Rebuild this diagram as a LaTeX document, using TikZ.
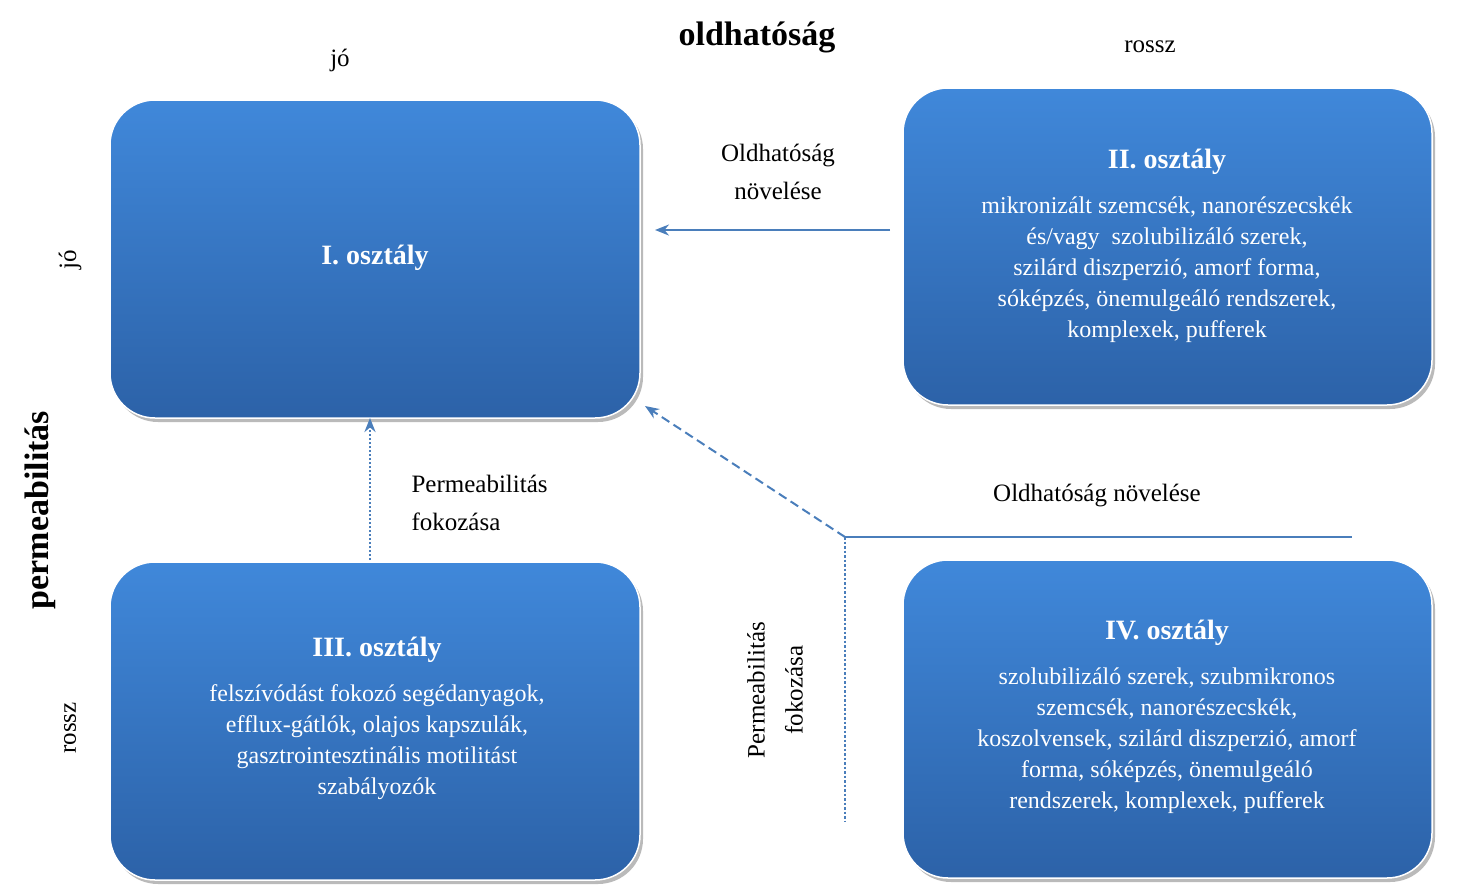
\documentclass[tikz,border=0pt]{standalone}
\usepackage{fontspec}
\setmainfont{Liberation Serif}
\usetikzlibrary{arrows.meta,shadows}
\definecolor{btop}{HTML}{4088DA}
\definecolor{bbot}{HTML}{2C62A8}
\definecolor{ln}{HTML}{4A7EBB}
\tikzset{
 cls/.style={draw=white,line width=1.5pt,rounded corners=45pt,top color=btop,bottom color=bbot,
   drop shadow={shadow xshift=3pt,shadow yshift=-4pt,fill=black!45,opacity=.6}},
 ttl/.style={text=white,font=\fontsize{28}{32}\selectfont\bfseries},
 bdy/.style={text=white,align=center,font=\fontsize{24}{31}\selectfont},
 lbl/.style={font=\fontsize{25}{38}\selectfont,align=center},
 arr/.style={draw=ln,line width=2pt,-{Stealth[length=14pt,width=11pt]}},
}
\begin{document}
\begin{tikzpicture}[x=1pt,y=-1pt]
\useasboundingbox (0,0) rectangle (1481,892);
\path[cls] (110,100) rectangle (640,418);
\path[cls] (903,88) rectangle (1432,405);
\path[cls] (110,562) rectangle (640,880);
\path[cls] (903,560) rectangle (1432,878);
\node[ttl] (t1) at (375,258) {I. osztály};
\node[ttl] (t2) at (1167,162) {II. osztály};
\node[bdy,anchor=north] (b2) at (1167,193) {mikronizált szemcsék, nanorészecskék\\és/vagy\ \ szolubilizáló szerek,\\szilárd diszperzió, amorf forma,\\sóképzés, önemulgeáló rendszerek,\\komplexek, pufferek};
\node[ttl] (t3) at (377,650) {III. osztály};
\node[bdy,anchor=north] (b3) at (377,681) {felszívódást fokozó segédanyagok,\\efflux-gátlók, olajos kapszulák,\\gasztrointesztinális motilitást\\szabályozók};
\node[ttl] (t4) at (1167,633) {IV. osztály};
\node[bdy,anchor=north] (b4) at (1167,664) {szolubilizáló szerek, szubmikronos\\szemcsék, nanorészecskék,\\koszolvensek, szilárd diszperzió, amorf\\forma, sóképzés, önemulgeáló\\rendszerek, komplexek, pufferek};
\node[font=\fontsize{34}{40}\selectfont\bfseries] (ox) at (757,37) {oldhatóság};
\node[lbl] (j1) at (340,60) {jó};
\node[lbl] (r1) at (1150,47) {rossz};
\node[lbl,rotate=90] (j2) at (70,260) {jó};
\node[font=\fontsize{34}{40}\selectfont\bfseries,rotate=90] (py) at (40,510) {permeabilitás};
\node[lbl,rotate=90] (r2) at (70,728) {rossz};
\node[lbl] (on1) at (778,172) {Oldhatóság\\növelése};
\node[lbl,align=left,anchor=west] (pf1) at (408,503) {Permeabilitás\\fokozása};
\node[lbl] (on2) at (1097,495) {Oldhatóság növelése};
\node[lbl,rotate=90] (pf2) at (775,690) {Permeabilitás\\fokozása};
\coordinate (a2s) at (890,230); \coordinate (a2e) at (655,230);
\coordinate (a3s) at (370,560); \coordinate (a3e) at (370,418);
\coordinate (c) at (845,537); \coordinate (a4e) at (645,406);
\coordinate (hE) at (1352,537); \coordinate (vE) at (845,822);
\draw[arr] (a2s) -- (a2e);
\draw[arr,dotted,line width=2.5pt] (a3s) -- (a3e);
\draw[arr,dashed,dash pattern=on 9pt off 5pt] (c) -- (a4e);
\draw[draw=ln,line width=2pt] (c) -- (hE);
\draw[draw=ln,line width=2.5pt,dotted] (c) -- (vE);
\end{tikzpicture}
\end{document}
